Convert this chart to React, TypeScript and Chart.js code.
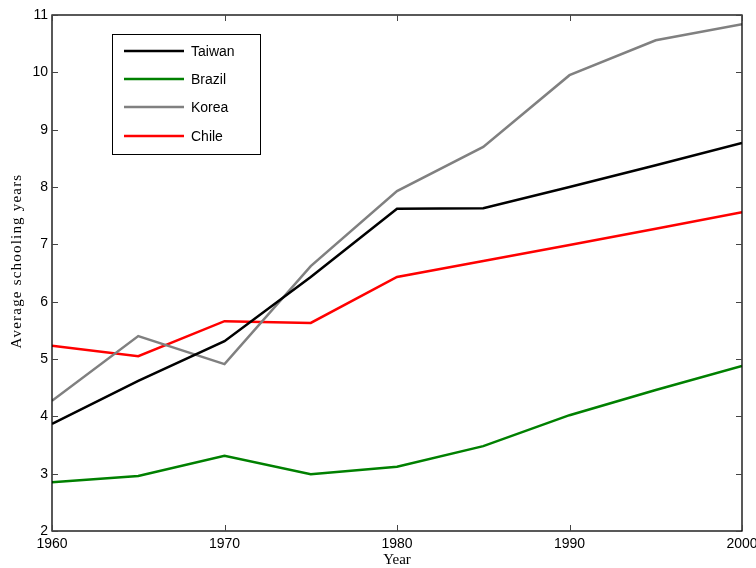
import React, { useEffect, useRef } from "react";
import { Chart, registerables } from "chart.js";

Chart.register(...registerables);

const years = [1960, 1965, 1970, 1975, 1980, 1985, 1990, 1995, 2000];
const taiwan = [3.87, 4.62, 5.31, 6.43, 7.62, 7.63, 8.0, 8.38, 8.77];
const brazil = [2.85, 2.96, 3.31, 2.99, 3.12, 3.48, 4.02, 4.46, 4.88];
const korea = [4.27, 5.4, 4.91, 6.62, 7.93, 8.7, 9.95, 10.56, 10.84];
const chile = [5.23, 5.05, 5.66, 5.63, 6.43, 6.71, 6.99, 7.27, 7.56];
const seriesNames = ["Taiwan", "Brazil", "Korea", "Chile"];
const seriesColors = ["#000000", "#008000", "#808080", "#ff0000"];
const xLabel = "Year";
const yLabel = "Average schooling years";

const SANS = '"Liberation Sans", Arial, Helvetica, sans-serif';
const SERIF = '"Liberation Serif", "Times New Roman", serif';

const framePlugin = {
  id: "frame",
  afterDatasetsDraw(chart: any) {
    const { ctx, chartArea: a, scales } = chart;
    ctx.save();
    ctx.strokeStyle = "#000";
    ctx.lineWidth = 1.3;
    ctx.strokeRect(a.left, a.top, a.right - a.left, a.bottom - a.top);
    ctx.lineWidth = 1;
    ctx.strokeStyle = "#444";
    const tl = 6;
    ctx.beginPath();
    scales.x.ticks.forEach((t: any) => {
      const px = Math.round(scales.x.getPixelForValue(t.value)) + 0.5;
      ctx.moveTo(px, a.bottom);
      ctx.lineTo(px, a.bottom - tl);
      ctx.moveTo(px, a.top);
      ctx.lineTo(px, a.top + tl);
    });
    scales.y.ticks.forEach((t: any) => {
      const py = Math.round(scales.y.getPixelForValue(t.value)) + 0.5;
      ctx.moveTo(a.left, py);
      ctx.lineTo(a.left + tl, py);
      ctx.moveTo(a.right, py);
      ctx.lineTo(a.right - tl, py);
    });
    ctx.stroke();
    ctx.restore();
  },
  afterDraw(chart: any) {
    const { ctx } = chart;
    // legend
    ctx.save();
    const bx = 112.5, by = 34.5, bw = 148, bh = 120;
    ctx.fillStyle = "#fff";
    ctx.fillRect(bx, by, bw, bh);
    ctx.strokeStyle = "#000";
    ctx.lineWidth = 1;
    ctx.strokeRect(bx, by, bw, bh);
    const rows = [51, 79, 107, 136];
    chart.data.datasets.forEach((ds: any, i: number) => {
      const y = rows[i];
      ctx.strokeStyle = ds.borderColor;
      ctx.lineWidth = 2.5;
      ctx.beginPath();
      ctx.moveTo(124, y);
      ctx.lineTo(184, y);
      ctx.stroke();
      ctx.fillStyle = "#000";
      ctx.font = `14px ${SANS}`;
      ctx.textAlign = "left";
      ctx.textBaseline = "middle";
      ctx.fillText(ds.label, 191, y + 1);
    });
    ctx.restore();
    // y title
    ctx.save();
    ctx.translate(17, 261);
    ctx.rotate(-Math.PI / 2);
    ctx.font = `15px ${SERIF}`;
    (ctx as any).letterSpacing = "1.2px";
    ctx.fillStyle = "#000";
    ctx.textAlign = "center";
    ctx.textBaseline = "middle";
    ctx.fillText(yLabel, 0, 0);
    ctx.restore();
  },
};

export default function App() {
  const ref = useRef<HTMLCanvasElement>(null);
  useEffect(() => {
    if (!ref.current) return;
    const data = [taiwan, brazil, korea, chile];
    const chart = new Chart(ref.current, {
      type: "line",
      data: {
        datasets: data.map((vals, i) => ({
          label: seriesNames[i],
          data: years.map((yr, j) => ({ x: yr, y: vals[j] })),
          borderColor: seriesColors[i],
          backgroundColor: seriesColors[i],
          borderWidth: 2.5,
          pointRadius: 0,
          tension: 0,
          fill: false,
        })),
      },
      options: {
        responsive: false,
        animation: false,
        devicePixelRatio: 1,
        layout: { padding: { top: 15, right: 14, left: 0, bottom: 0 } },
        plugins: { legend: { display: false }, tooltip: { enabled: false } },
        scales: {
          x: {
            type: "linear",
            min: 1960,
            max: 2000,
            grid: { display: false, drawTicks: false },
            border: { display: false },
            ticks: {
              stepSize: 10,
              padding: 5,
              color: "#000",
              font: { family: SANS, size: 14 },
              maxRotation: 0,
              autoSkip: false,
              callback: (v: any) => String(v),
            },
            title: {
              display: true,
              text: xLabel,
              color: "#000",
              font: { family: SERIF, size: 15 },
              padding: { top: 0, bottom: -1 },
            },
            afterFit: (s: any) => {
              s.height = 37;
              s.paddingLeft = 0;
              s.paddingRight = 0;
            },
          },
          y: {
            type: "linear",
            min: 2,
            max: 11,
            grid: { display: false, drawTicks: false },
            border: { display: false },
            ticks: {
              stepSize: 1,
              padding: 4,
              color: "#000",
              font: { family: SANS, size: 14 },
              autoSkip: false,
            },
            afterFit: (s: any) => {
              s.width = 52;
              s.paddingTop = 0;
              s.paddingBottom = 0;
            },
          },
        },
      } as any,
      plugins: [framePlugin],
    });
    return () => chart.destroy();
  }, []);
  return (
    <div style={{ position: "absolute", left: 0, top: 0, width: 756, height: 568, background: "#fff" }}>
      <canvas ref={ref} width={756} height={568} style={{ display: "block" }} />
    </div>
  );
}
